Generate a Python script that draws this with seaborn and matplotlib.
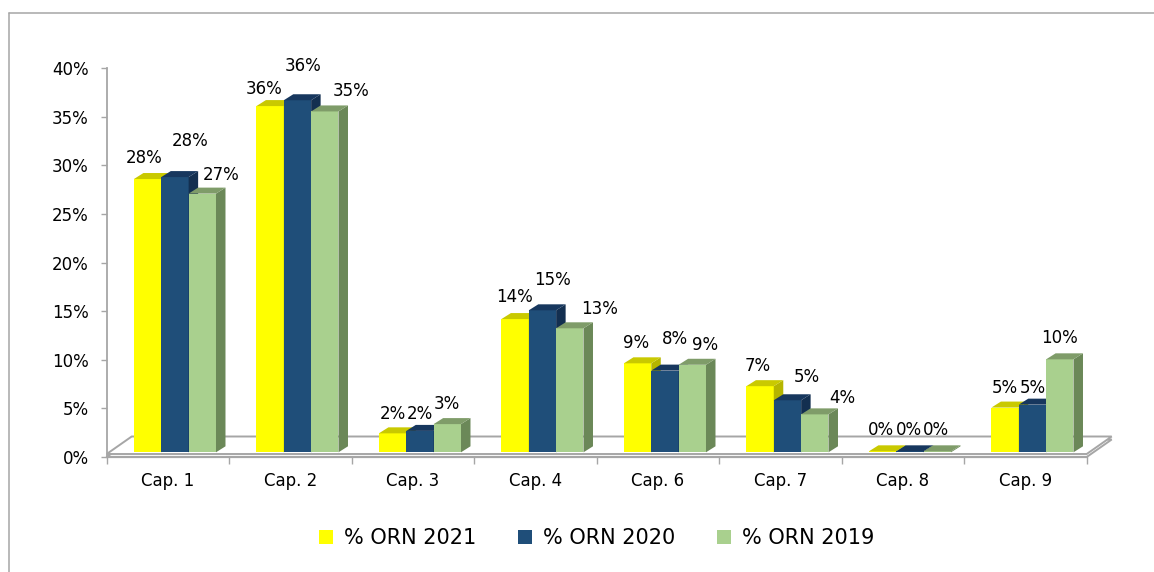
import numpy as np
import pandas as pd
import matplotlib
matplotlib.use("Agg")
import matplotlib.pyplot as plt
from matplotlib.patches import Polygon, Patch
from matplotlib.lines import Line2D
from matplotlib.transforms import ScaledTranslation, IdentityTransform
import seaborn as sns

# Daten
categories = ["Cap. 1", "Cap. 2", "Cap. 3", "Cap. 4", "Cap. 6", "Cap. 7", "Cap. 8", "Cap. 9"]
series = ["% ORN 2021", "% ORN 2020", "% ORN 2019"]
orn_2021 = [0.281, 0.356, 0.0195, 0.137, 0.0915, 0.068, 0.001, 0.046]
orn_2020 = [0.283, 0.362, 0.022, 0.146, 0.084, 0.0535, 0.001, 0.049]
orn_2019 = [0.266, 0.3505, 0.029, 0.1275, 0.090, 0.039, 0.001, 0.0956]
y_ticks = [0.0, 0.05, 0.10, 0.15, 0.20, 0.25, 0.30, 0.35, 0.40]

# Farben (Vorderseite, Deckel, Seite)
front_col = {"% ORN 2021": "#FFFF00", "% ORN 2020": "#1F4E79", "% ORN 2019": "#A9D08E"}
top_col = {"% ORN 2021": "#C9C900", "% ORN 2020": "#17375E", "% ORN 2019": "#7F9C69"}
side_col = {"% ORN 2021": "#B5B500", "% ORN 2020": "#132F50", "% ORN 2019": "#6B8858"}

# Verschiebung der Beschriftungen in Pixeln (wie im Original von Hand gesetzt)
label_dx = {"% ORN 2021": [-3, -6, 0, -1, -2, -2, -2, 0],
            "% ORN 2020": [15, 6, 0, 10, 10, 19, -1, 0],
            "% ORN 2019": [19, 26, 0, 30, 13, 28, -1, 0]}
label_dy = {"% ORN 2021": [16, 12, 14, 17, 15, 15, 16, 15],
            "% ORN 2020": [31, 29, 12, 25, 27, 18, 16, 12],
            "% ORN 2019": [14, 15, 15, 14, 15, 11, 16, 16]}

df = pd.DataFrame({
    "chapter": categories * 3,
    "share": orn_2021 + orn_2020 + orn_2019,
    "series": np.repeat(series, len(categories)),
})

W, H, DPI = 1154, 572, 100
GRAY = "#A6A6A6"
FS = 12
shift = (7, 4.7)     # Tiefe der Balken vor der Front
depth = (9.5, 6)     # Deckel/Seite
floor_d = (25, 17.5) # Boden

sns.set_style("white")
plt.rcParams["font.family"] = ["DejaVu Sans"]
plt.rcParams["text.color"] = "black"
plt.rcParams["xtick.labelcolor"] = "black"
plt.rcParams["ytick.labelcolor"] = "black"

fig = plt.figure(figsize=(W / DPI, H / DPI), dpi=DPI)
ax = fig.add_axes([106.7 / W, 1 - 457 / H, 980 / W, 389 / H])

sns.barplot(data=df, x="chapter", y="share", hue="series", palette=front_col,
            width=0.67, saturation=1, edgecolor="none", linewidth=0,
            legend=False, ax=ax)
ax.set_xlim(-0.5, 7.5)
ax.set_ylim(0, 0.40)

off = ScaledTranslation(shift[0] / DPI, shift[1] / DPI, fig.dpi_scale_trans)
ident = IdentityTransform()

def px(x, y):
    return ax.transData.transform((x, y)) + np.array(shift)

# Boden als dünne Platte
p_fl, p_fr = ax.transData.transform((-0.5, 0)), ax.transData.transform((7.5, 0))
for k, lift in enumerate([0, 3]):
    pts = np.array([p_fl, p_fr, p_fr + floor_d, p_fl + floor_d]) + np.array([0, lift])
    ax.add_artist(Polygon(pts, closed=True, facecolor="white", edgecolor=GRAY,
                          lw=1.4, transform=ident, clip_on=False, zorder=1.2 + 0.1 * k))

bars = []
for cont, s in zip(ax.containers, series):
    for i, bar in enumerate(cont.patches):
        bars.append((bar.get_x(), bar, s, i))
bars.sort(key=lambda b: b[0])

d = np.array(depth)
for rank, (x0, bar, s, i) in enumerate(bars):
    z = 2 + rank * 0.01
    w, h = bar.get_width(), bar.get_height()
    bar.set_transform(ax.transData + off)
    bar.set_zorder(z)
    bar.set_clip_on(False)
    tl, tr, br = px(x0, h), px(x0 + w, h), px(x0 + w, 0)
    ax.add_artist(Polygon([br, tr, tr + d, br + d], closed=True, facecolor=side_col[s],
                          edgecolor="none", transform=ident, clip_on=False, zorder=z + 0.002))
    ax.add_artist(Polygon([tl, tr, tr + d, tl + d], closed=True, facecolor=top_col[s],
                          edgecolor="none", transform=ident, clip_on=False, zorder=z + 0.004))
    ax.annotate(f"{round(h * 100)}%", xy=(x0 + w / 2, h),
                xytext=(shift[0] + label_dx[s][i], shift[1] + label_dy[s][i]),
                textcoords="offset pixels", ha="center", va="baseline",
                fontsize=FS, color="black", annotation_clip=False, zorder=10)

# Achsen
for side in ["top", "right"]:
    ax.spines[side].set_visible(False)
ax.spines["left"].set_color(GRAY)
ax.spines["left"].set_linewidth(1.3)
ax.spines["bottom"].set_color(GRAY)
ax.spines["bottom"].set_linewidth(1.6)
ax.spines["bottom"].set_zorder(1.5)

ax.set_yticks(y_ticks)
ax.set_yticklabels([f"{round(t * 100)}%" for t in y_ticks])
ax.set_xticks(range(len(categories)))
ax.set_xticks(np.arange(-0.5, len(categories), 1), minor=True)
ax.tick_params(axis="y", which="major", direction="out", length=4, width=1, color=GRAY,
               pad=9, labelsize=FS, labelcolor="black", left=True)
ax.tick_params(axis="x", which="major", length=0, pad=11, labelsize=FS, labelcolor="black")
ax.tick_params(axis="x", which="minor", direction="out", length=5, width=1, color=GRAY, bottom=True)
ax.set_xlabel("")
ax.set_ylabel("")

handles = [Patch(facecolor=front_col[s], edgecolor="none", label=s) for s in series]
leg = ax.legend(handles=handles, loc="center", bbox_to_anchor=(0.5, -0.208), ncol=3,
                frameon=False, fontsize=15, handlelength=0.67, handleheight=0.67,
                handletextpad=0.53, columnspacing=2.0)
for t in leg.get_texts():
    t.set_color("black")

# Rahmen des Diagramms
fig.add_artist(Line2D([9 / W, 1], [1 - 13 / H] * 2, color=GRAY, lw=1.1, transform=fig.transFigure))
fig.add_artist(Line2D([9 / W] * 2, [0, 1 - 13 / H], color=GRAY, lw=1.1, transform=fig.transFigure))

fig.savefig("out.png", dpi=DPI)
